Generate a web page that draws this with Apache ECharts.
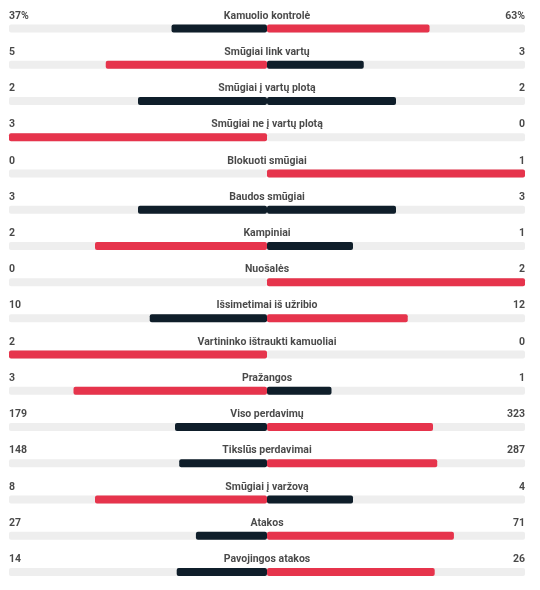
<!DOCTYPE html>
<html>
<head>
<meta charset="utf-8">
<script src="https://cdn.jsdelivr.net/npm/echarts@6/dist/echarts.min.js"></script>
<style>html,body{margin:0;padding:0;background:#fff;}#c{width:540px;height:590px;}</style>
</head>
<body>
<div id="c"></div>
<script>
const categories = ['Kamuolio kontrolė','Smūgiai link vartų','Smūgiai į vartų plotą','Smūgiai ne į vartų plotą','Blokuoti smūgiai','Baudos smūgiai','Kampiniai','Nuošalės','Išsimetimai iš užribio','Vartininko ištraukti kamuoliai','Pražangos','Viso perdavimų','Tikslūs perdavimai','Smūgiai į varžovą','Atakos','Pavojingos atakos'];
const homeValues = [37,5,2,3,0,3,2,0,10,2,3,179,148,8,27,14];
const awayValues = [63,3,2,0,1,3,1,2,12,0,1,323,287,4,71,26];
const suffixes = ['%','','','','','','','','','','','','','','',''];

const RED = '#e6344c', DARK = '#0f1e2a', TRACK = '#eeeeee';
const FONT = {fontFamily: 'Roboto', fontWeight: 'bold', fontSize: 10.5, color: '#1a1a1a'};

const leftData = homeValues.map((h, i) => {
  const a = awayValues[i], s = h + a;
  return {value: s ? -h / s : 0, itemStyle: {color: h > a ? RED : DARK}};
});
const rightData = awayValues.map((a, i) => {
  const h = homeValues[i], s = h + a;
  return {value: s ? a / s : 0, itemStyle: {color: a > h ? RED : DARK}};
});

const barCommon = {type: 'bar', barWidth: 8, barGap: '-100%', silent: true, itemStyle: {borderRadius: 2}};
const labelSeries = (xv, align, texts) => ({
  type: 'scatter', symbolSize: 0, silent: true,
  data: categories.map((c, i) => [xv, c, texts[i]]),
  label: Object.assign({show: true, position: 'inside', offset: [0, -12.5], align: align, verticalAlign: 'middle',
    formatter: p => p.data[2]}, FONT)
});

const chart = echarts.init(document.getElementById('c'));
chart.setOption({
  animation: false,
  grid: {left: 9, width: 516, top: 10.5, height: 582.4},
  xAxis: {type: 'value', min: -1, max: 1, show: false},
  yAxis: {type: 'category', data: categories, inverse: true, show: false},
  series: [
    Object.assign({}, barCommon, {data: categories.map(() => -1), itemStyle: {color: TRACK, borderRadius: 2}}),
    Object.assign({}, barCommon, {data: categories.map(() => 1), itemStyle: {color: TRACK, borderRadius: 2}}),
    Object.assign({}, barCommon, {data: leftData}),
    Object.assign({}, barCommon, {data: rightData}),
    labelSeries(-1, 'left', homeValues.map((v, i) => v + suffixes[i])),
    labelSeries(0, 'center', categories),
    labelSeries(1, 'right', awayValues.map((v, i) => v + suffixes[i]))
  ]
});
</script>
</body>
</html>
